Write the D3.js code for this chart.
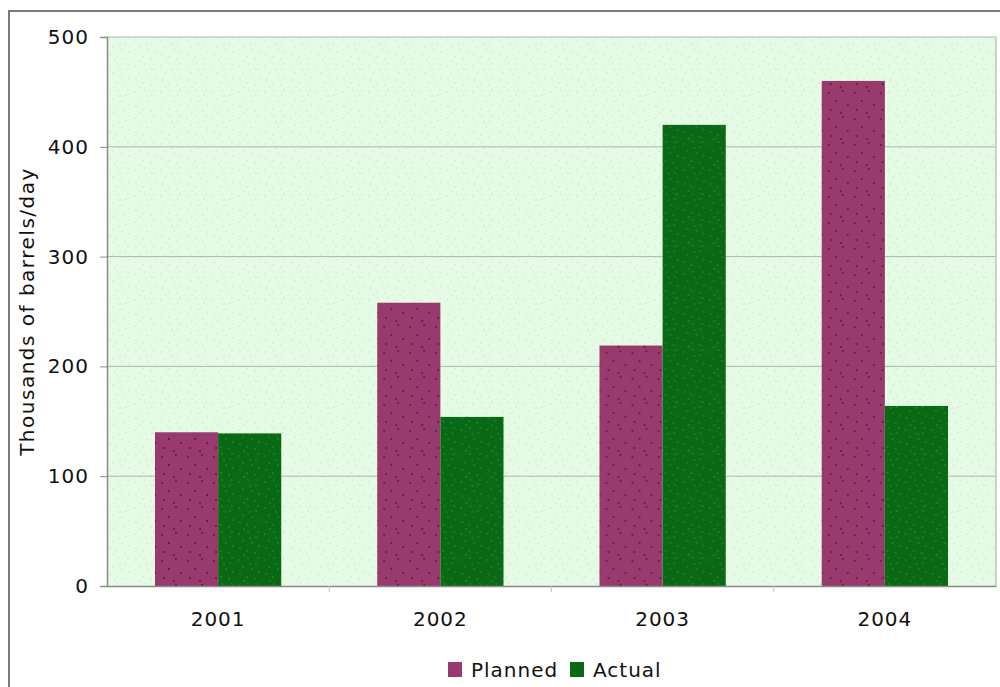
<!DOCTYPE html>
<html>
<head>
<meta charset="utf-8">
<script src="https://cdn.jsdelivr.net/npm/d3@7"></script>
<style>
  html, body { margin: 0; padding: 0; background: #fff; }
  svg { display: block; }
</style>
</head>
<body>
<svg id="chart" width="1000" height="687"></svg>
<script>
// Production, thousands of barrels per day
const years = ["2001", "2002", "2003", "2004"];
const planned = [140, 258, 219, 460];
const actual = [139, 154, 420, 164];
const seriesNames = ["Planned", "Actual"];
const yTicks = [0, 100, 200, 300, 400, 500];

const svg = d3.select("#chart");
const W = 1000, H = 687;
const margin = { left: 107, right: 4, top: 37, bottom: 101 };
const plotW = W - margin.left - margin.right;
const plotH = H - margin.top - margin.bottom;
const FONT = "DejaVu Sans, Verdana, sans-serif";

const colors = { Planned: "#993a6f", Actual: "#0a6915" };
const dotColors = { Planned: "#5e1438", Actual: "#3f9a45", bg: "#b6cdb6" };

// stipple textures
const defs = svg.append("defs");
const dotSpots = [[2,3],[11,1],[19,6],[6,10],[15,12],[22,15],[3,17],[10,20],[18,22],[13,7],[7,24],[21,1]];
const sparseSpots = [[3,4],[17,2],[10,12],[22,16],[5,21],[15,24]];
function stipple(id, base, dot, r, spots) {
  const p = defs.append("pattern").attr("id", id)
    .attr("patternUnits", "userSpaceOnUse").attr("width", 26).attr("height", 26);
  p.append("rect").attr("width", 26).attr("height", 26).attr("fill", base);
  p.selectAll("circle").data(spots).join("circle")
    .attr("cx", d => d[0]).attr("cy", d => d[1]).attr("r", r).attr("fill", dot);
}
stipple("texBg", "#e5fbe5", dotColors.bg, 0.6, dotSpots);
stipple("texPlanned", colors.Planned, dotColors.Planned, 1.0, sparseSpots);
stipple("texActual", colors.Actual, dotColors.Actual, 0.7, dotSpots);

// outer frame
svg.append("rect").attr("x", 9).attr("y", 11).attr("width", 1000).attr("height", 700)
  .attr("fill", "none").attr("stroke", "#7a7a7a").attr("stroke-width", 2);

const g = svg.append("g").attr("transform", `translate(${margin.left},${margin.top})`);

const x = d3.scaleBand().domain(years).range([0, plotW]).paddingInner(0).paddingOuter(0);
const xi = d3.scaleBand().domain(seriesNames).range([0, x.bandwidth()]).paddingInner(0).paddingOuter(0.76);
const y = d3.scaleLinear().domain([0, 500]).range([plotH, 0]);

// plot background
g.append("rect").attr("width", plotW).attr("height", plotH).attr("fill", "url(#texBg)");

// gridlines
g.append("g").selectAll("line").data(yTicks.filter(t => t > 0 && t < 500)).join("line")
  .attr("x1", 0).attr("x2", plotW).attr("y1", d => y(d)).attr("y2", d => y(d))
  .attr("stroke", "#a9b9a9").attr("stroke-width", 1);

// plot border (top/right)
g.append("path").attr("d", `M0,0H${plotW}V${plotH}`)
  .attr("fill", "none").attr("stroke", "#b0b8b0").attr("stroke-width", 1.2);

// bars
const rows = years.map((yr, i) => ({ year: yr, values: [
  { key: "Planned", v: planned[i] }, { key: "Actual", v: actual[i] }] }));
const groups = g.append("g").selectAll("g").data(rows).join("g")
  .attr("transform", d => `translate(${x(d.year)},0)`);
groups.selectAll("rect").data(d => d.values).join("rect")
  .attr("x", d => xi(d.key)).attr("width", xi.bandwidth())
  .attr("y", d => y(d.v)).attr("height", d => plotH - y(d.v))
  .attr("fill", d => `url(#tex${d.key})`);

// y axis
const yAxis = g.append("g").call(d3.axisLeft(y).tickValues(yTicks).tickSize(7).tickPadding(11).tickFormat(d3.format("d")));
yAxis.select(".domain").attr("stroke", "#8a8a8a").attr("stroke-width", 1.5);
yAxis.selectAll(".tick line").attr("stroke", "#8a8a8a");
yAxis.selectAll("text").attr("font-family", FONT)
  .attr("font-size", 20).attr("letter-spacing", 1).attr("fill", "#111");

// x axis
const xAxis = g.append("g").attr("transform", `translate(0,${plotH})`)
  .call(d3.axisBottom(x).tickSize(0).tickPadding(26));
xAxis.select(".domain").attr("stroke", "#8a8a8a").attr("stroke-width", 1.5);
xAxis.selectAll("text").attr("font-family", FONT)
  .attr("font-size", 20).attr("letter-spacing", 1).attr("fill", "#111");

// faint ticks at category boundaries
xAxis.append("g").selectAll("line").data(years.slice(1)).join("line")
  .attr("x1", d => x(d)).attr("x2", d => x(d)).attr("y1", 0).attr("y2", 6)
  .attr("stroke", "#c4c4c4").attr("stroke-width", 1);

// y axis title
svg.append("text")
  .attr("transform", `translate(34,${margin.top + plotH / 2}) rotate(-90)`)
  .attr("text-anchor", "middle")
  .attr("font-family", FONT).attr("font-size", 20).attr("letter-spacing", 1.5).attr("fill", "#111")
  .text("Thousands of barrels/day");

// legend
const legend = svg.append("g").attr("transform", "translate(448,662)");
const legendX = [0, 122];
seriesNames.forEach((s, i) => {
  const lg = legend.append("g").attr("transform", `translate(${legendX[i]},0)`);
  lg.append("rect").attr("width", 14).attr("height", 15).attr("fill", colors[s]);
  lg.append("text").attr("x", 23).attr("y", 15)
    .attr("font-family", FONT).attr("font-size", 20).attr("letter-spacing", 1).attr("fill", "#111")
    .text(s);
});
</script>
</body>
</html>
